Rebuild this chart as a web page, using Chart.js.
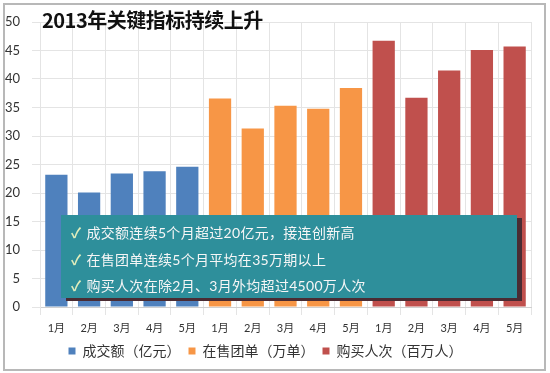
<!DOCTYPE html>
<html>
<head>
<meta charset="utf-8">
<script src="https://cdn.jsdelivr.net/npm/chart.js@4.4.0/dist/chart.umd.min.js"></script>
<style>
  body { margin: 0; background: #fff; }
  #wrap { position: relative; width: 550px; height: 373px; }
  #frame { position: absolute; left: 3px; top: 3px; width: 539px; height: 364px; border: 2px solid #b8b8b8; pointer-events: none; }
  #title { position: absolute; left: 42px; top: 5px; font: bold 20px "Noto Sans CJK SC", sans-serif; color: #111; letter-spacing: -0.5px; }
  #note { position: absolute; left: 61px; top: 215px; width: 456px; height: 83px; background: #2e8f9b;
          box-shadow: 5px 3px 0 #4a2c33; color: #f6f6f6; font: 14px Lato, "Noto Sans CJK SC", sans-serif; letter-spacing: 0.3px; }
  #note div { position: absolute; left: 10px; white-space: nowrap; }
  #note span { color: #e2eebc; margin-right: 5px; font-weight: bold; }
</style>
</head>
<body>
<div id="wrap">
  <canvas id="myChart" width="550" height="373"></canvas>
  <div id="title">2013年关键指标持续上升</div>
  <div id="note"></div>
  <div id="frame"></div>
</div>
<script>
const months = ["1月", "2月", "3月", "4月", "5月"];
const seriesNames = ["成交额（亿元）", "在售团单（万单）", "购买人次（百万人）"];
const turnover = [23.2, 20.1, 23.4, 23.8, 24.6];
const deals = [36.6, 31.3, 35.3, 34.8, 38.4];
const buyers = [46.7, 36.7, 41.5, 45.1, 45.7];
const colors = ["#4f81bd", "#f79646", "#c0504d"];
const notes = [
  "成交额连续5个月超过20亿元，接连创新高",
  "在售团单连续5个月平均在35万期以上",
  "购买人次在除2月、3月外均超过4500万人次"
];

const labels = [...months, ...months, ...months];
const pad = (arr, idx) => labels.map((_, i) => (Math.floor(i / 5) === idx ? arr[i % 5] : null));

const noteBox = document.getElementById("note");
notes.forEach((t, i) => {
  const d = document.createElement("div");
  d.style.top = (7 + i * 26.5) + "px";
  d.innerHTML = "<span>✓</span>" + t;
  noteBox.appendChild(d);
});

const font = "Lato, 'Noto Sans CJK SC', sans-serif";
const ctx = document.getElementById("myChart").getContext("2d");
new Chart(ctx, {
  type: "bar",
  data: {
    labels: labels,
    datasets: [turnover, deals, buyers].map((arr, i) => ({
      label: seriesNames[i],
      data: pad(arr, i),
      backgroundColor: colors[i],
      barPercentage: 0.68,
      categoryPercentage: 1.0,
      grouped: false,
    })),
  },
  options: {
    responsive: false,
    animation: false,
    layout: { padding: { left: 0, right: 19, top: 22, bottom: 5 } },
    plugins: {
      tooltip: { enabled: false },
      legend: {
        position: "bottom",
        labels: { boxWidth: 7, boxHeight: 7, padding: 8, color: "#333", font: { family: font, size: 14 } },
      },
    },
    scales: {
      x: {
        grid: { color: "#e4e4e4", offset: true },
        border: { color: "#d0d0d0" },
        ticks: { color: "#333", padding: 7, font: { family: font, size: 11 } },
        afterFit: (s) => { s.height = 29; },
      },
      y: {
        min: 0,
        max: 50,
        ticks: { stepSize: 5, color: "#333", padding: 12, font: { family: font, size: 13 } },
        grid: { color: "#e4e4e4" },
        border: { color: "#e4e4e4" },
        afterFit: (s) => { s.width = 40; },
      },
    },
  },
});
</script>
</body>
</html>
